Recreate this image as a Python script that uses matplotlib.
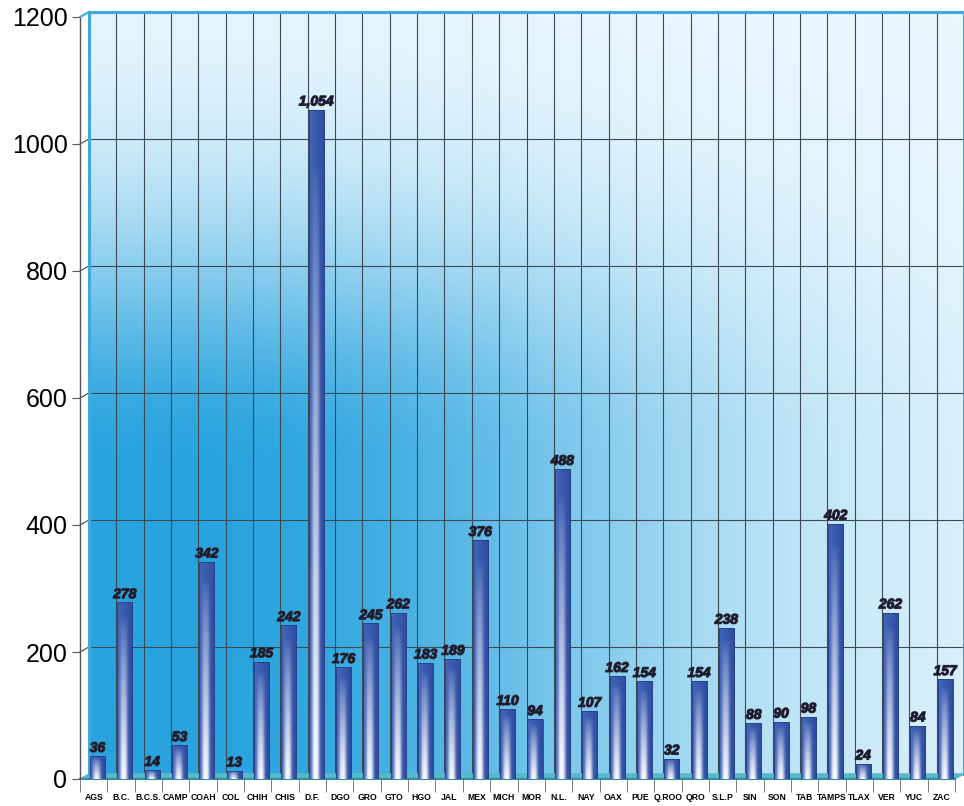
import numpy as np
import matplotlib
matplotlib.use("Agg")
import matplotlib.pyplot as plt
import matplotlib.patheffects as pe
from matplotlib import font_manager

categories = ["AGS", "B.C.", "B.C.S.", "CAMP", "COAH", "COL", "CHIH", "CHIS", "D.F.", "DGO",
              "GRO", "GTO", "HGO", "JAL", "MEX", "MICH", "MOR", "N.L.", "NAY", "OAX",
              "PUE", "Q.ROO", "QRO", "S.L.P", "SIN", "SON", "TAB", "TAMPS", "TLAX", "VER",
              "YUC", "ZAC"]
values = [36, 278, 14, 53, 342, 13, 185, 242, 1054, 176,
          245, 262, 183, 189, 376, 110, 94, 488, 107, 162,
          154, 32, 154, 238, 88, 90, 98, 402, 24, 262,
          84, 157]
yticks = [0, 200, 400, 600, 800, 1000, 1200]

names = {f.name for f in font_manager.fontManager.ttflist}
narrow = "Liberation Sans Narrow" if "Liberation Sans Narrow" in names else "Liberation Sans"
xlab_size = 7.5 if narrow == "Liberation Sans Narrow" else 6.2

n = len(categories)
W, H = 964, 806
fig = plt.figure(figsize=(W / 100, H / 100), dpi=100)
ax = fig.add_axes([80 / W, 27 / H, 875 / W, 762 / H])
ax.set_xlim(-0.5, n - 0.5)
ax.set_ylim(0, 1200)
for s in ax.spines.values():
    s.set_visible(False)

# back wall geometry (3D offset)
dx, dy = 0.33, 8
bx0, bx1 = -0.5 + dx, n - 0.5 + dx

# background gradient
nu, nv = 300, 300
u = np.linspace(0, 1, nu)
v = np.linspace(0, 1, nv)
U, V = np.meshgrid(u, v)
du = np.clip(U - 0.12, 0, None) / 0.72
dv = np.clip(V - 0.40, 0, None) / 0.40
I = np.exp(-(du ** 2 + dv ** 2) * 1.6)
deep = np.array([0.16, 0.64, 0.87])
pale = np.array([0.92, 0.97, 0.995])
img = pale[None, None, :] * (1 - I[..., None]) + deep[None, None, :] * I[..., None]
ax.imshow(img, extent=(bx0, bx1, dy, 1200 + dy), origin="lower", aspect="auto",
          zorder=0, clip_on=False, interpolation="bilinear")

# grid on back wall
grid_c = "#3c4a55"
for y in yticks[1:-1]:
    ax.plot([bx0, bx1], [y + dy, y + dy], color=grid_c, lw=0.8, zorder=1, clip_on=False)
    ax.plot([-0.5, bx0], [y, y + dy], color=grid_c, lw=0.8, zorder=1, clip_on=False)
for k in range(1, n):
    ax.plot([k - 0.5 + dx] * 2, [dy, 1200 + dy], color=grid_c, lw=0.8, zorder=1, clip_on=False)

# frame of back wall
wall_c = "#3fa9df"
ax.plot([bx0, bx0], [dy, 1200 + dy], color=wall_c, lw=2.2, zorder=2, clip_on=False)
ax.plot([bx0, bx1], [1200 + dy, 1200 + dy], color=wall_c, lw=2.2, zorder=2, clip_on=False)
ax.plot([bx1, bx1], [dy, 1200 + dy], color=wall_c, lw=2.2, zorder=2, clip_on=False)
# front axis
ax.plot([-0.5, -0.5], [0, 1200], color="#555555", lw=1.0, zorder=2, clip_on=False)
ax.plot([-0.5, bx0], [1200, 1200 + dy], color=wall_c, lw=1.5, zorder=2, clip_on=False)
# floor
ax.fill([-0.5, n - 0.5, bx1, bx0], [0, 0, dy, dy], color="#58b8c8", zorder=1.5, clip_on=False)
ax.plot([-0.5, n - 0.5], [0, 0], color="#2f8f9a", lw=1.5, zorder=1.6, clip_on=False)

# bars with cylindrical gradient
xs = np.arange(n) + 0.14
bw = 0.55
bars = ax.bar(xs, values, width=bw, color="none", edgecolor="none", zorder=3)
sx = np.linspace(0, 1, 40)
sv = np.linspace(0, 1, 120)
SX, SV = np.meshgrid(sx, sv)
left_c = np.array([0.26, 0.40, 0.73])
right_c = np.array([0.18, 0.30, 0.63])
base = left_c[None, None, :] * (1 - SX[..., None]) + right_c[None, None, :] * SX[..., None]
hl = np.exp(-np.abs((SX - 0.42) / 0.24) ** 3)
vf = np.clip(1 - SV / 0.92, 0, 1) ** 0.75
amt = (hl * vf)[..., None]
white = np.array([0.99, 0.99, 1.0])
barimg = base * (1 - amt) + white[None, None, :] * amt
for rect, val in zip(bars, values):
    x0 = rect.get_x()
    im = ax.imshow(barimg, extent=(x0, x0 + bw, 0, val), origin="lower", aspect="auto",
                   zorder=3, interpolation="bilinear")
    im.set_clip_path(rect)
    ax.add_patch(plt.Rectangle((x0, 0), bw, val, fill=False, edgecolor="#2a3f85",
                               lw=0.6, zorder=3.5))
ax.set_xlim(-0.5, n - 0.5)
ax.set_ylim(0, 1200)

for x, val in zip(xs, values):
    lab = f"{val:,}"
    ax.text(x, val + 2, lab, ha="center", va="bottom", fontsize=10, fontweight="bold",
            fontstyle="italic", color="#1a1a2a", zorder=5, family="Liberation Sans",
            path_effects=[pe.withStroke(linewidth=0.9, foreground="#333344")])

# ticks
ax.set_yticks(yticks)
ax.set_yticklabels([str(t) for t in yticks], fontsize=18, family="Liberation Sans")
ax.tick_params(axis="y", length=6, color="#555555", pad=3)
ax.set_xticks(np.arange(n))
ax.set_xticklabels(categories, fontsize=xlab_size, fontweight="bold", family=narrow)
ax.tick_params(axis="x", which="major", length=0, pad=10)
ax.set_xticks(np.arange(n + 1) - 0.5, minor=True)
ax.tick_params(axis="x", which="minor", length=9, color="#666666", direction="out")

fig.savefig("out.png", dpi=100, facecolor="white")
